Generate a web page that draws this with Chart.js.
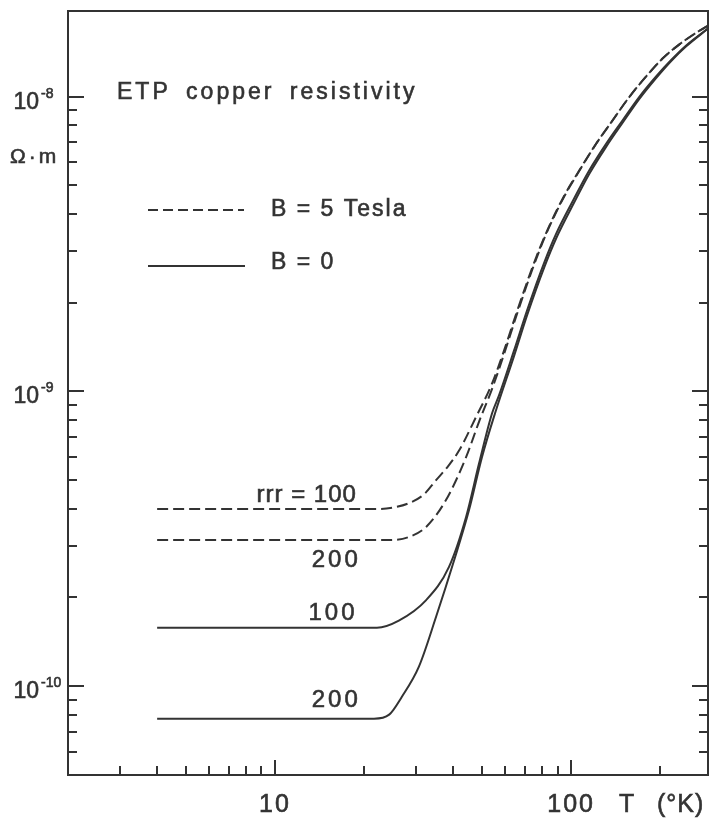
<!DOCTYPE html>
<html>
<head>
<meta charset="utf-8">
<title>ETP copper resistivity</title>
<script src="https://cdn.jsdelivr.net/npm/chart.js@4.4.1"></script>
<style>
    html, body {
        margin: 0;
        padding: 0;
        background: #fff;
    }
    #container {
        width: 711px;
        height: 818px;
    }
</style>
</head>
<body>
<div id="container">
    <canvas id="vis" width="711" height="818"></canvas>
</div>
<script>
    // resistivity in ohm-metre, temperature in kelvin
    // B = 5 Tesla, rrr = 100
    const tempB5r100 = [4, 22.4, 25.2, 28.4, 31.9, 35.0, 38.4, 41.9, 47.7, 54.1, 59.4, 65.8, 75.0, 82.4, 94.7, 106.4, 121.4, 137.6, 157.2, 179.3, 204.5, 231.6, 258.4, 290];
    const rhoB5r100 = [3.99e-10, 3.99e-10, 4.04e-10, 4.18e-10, 4.48e-10, 5.0e-10, 5.57e-10, 6.31e-10, 8.17e-10, 1.064e-9, 1.377e-9, 1.88e-9, 2.73e-9, 3.45e-9, 4.6e-9, 5.6e-9, 6.91e-9, 8.26e-9, 9.96e-9, 1.17e-8, 1.35e-8, 1.50e-8, 1.62e-8, 1.74e-8];

    // B = 5 Tesla, rrr = 200
    const tempB5r200 = [4, 24.3, 28.4, 32.4, 37.8, 44.2, 48.9, 54.1, 59.4, 65.8, 75.0, 82.4, 94.7, 106.4, 121.4, 137.6, 157.2, 179.3, 204.5, 231.6, 258.4, 290];
    const rhoB5r200 = [3.13e-10, 3.13e-10, 3.21e-10, 3.47e-10, 4.28e-10, 5.98e-10, 7.9e-10, 1.02e-9, 1.34e-9, 1.84e-9, 2.69e-9, 3.42e-9, 4.57e-9, 5.58e-9, 6.9e-9, 8.25e-9, 9.96e-9, 1.17e-8, 1.35e-8, 1.50e-8, 1.62e-8, 1.74e-8];

    // B = 0, rrr = 100
    const tempB0r100 = [4, 22.1, 26.2, 32.4, 38.7, 44.2, 48.9, 54.1, 57.1, 64.2, 71.0, 81.1, 89.0, 102.3, 115.0, 131.3, 148.7, 169.8, 193.7, 217.8, 244.8, 290];
    const rhoB0r100 = [1.58e-10, 1.58e-10, 1.67e-10, 1.96e-10, 2.54e-10, 3.75e-10, 5.7e-10, 8.43e-10, 9.69e-10, 1.377e-9, 1.88e-9, 2.73e-9, 3.42e-9, 4.5e-9, 5.6e-9, 6.91e-9, 8.26e-9, 9.96e-9, 1.17e-8, 1.33e-8, 1.49e-8, 1.70e-8];

    // B = 0, rrr = 200
    const tempB0r200 = [4, 21.6, 24.3, 26.8, 30.6, 35.0, 40.3, 45.2, 50.0, 55.3, 64.2, 71.0, 81.1, 89.0, 102.3, 115.0, 131.3, 148.7, 169.8, 193.7, 217.8, 244.8, 290];
    const rhoB0r200 = [7.76e-11, 7.76e-11, 8.01e-11, 9.2e-11, 1.163e-10, 1.72e-10, 2.68e-10, 3.95e-10, 5.98e-10, 8.4e-10, 1.32e-9, 1.81e-9, 2.63e-9, 3.3e-9, 4.36e-9, 5.45e-9, 6.75e-9, 8.1e-9, 9.8e-9, 1.155e-8, 1.32e-8, 1.48e-8, 1.70e-8];

    const xMajorTicks = [10, 100];
    const xMinorTicks = [3, 4, 5, 6, 7, 8, 9, 20, 30, 40, 50, 60, 70, 80, 90, 200];
    const xTickLabels = ['10', '100'];
    const yMajorTicks = [1e-10, 1e-9, 1e-8];
    const yMinorTicks = [6e-11, 7e-11, 8e-11, 9e-11,
        2e-10, 3e-10, 4e-10, 5e-10, 6e-10, 7e-10, 8e-10, 9e-10,
        2e-9, 3e-9, 4e-9, 5e-9, 6e-9, 7e-9, 8e-9, 9e-9];
    const yTickExponents = ['-10', '-9', '-8'];

    // curve annotations: text, T, rho
    const curveLabels = [
        ['rrr = 100', 12.8, 4.21e-10],
        ['200', 16.1, 2.54e-10],
        ['100', 15.7, 1.68e-10],
        ['200', 16.1, 8.53e-11]
    ];

    const ink = '#333333';
    const font = '"Liberation Sans", Arial, sans-serif';

    const toPoints = (xs, ys) => xs.map((x, i) => ({x, y: ys[i]}));

    // text with a thin outline so it looks as heavy as the printed original
    function text(ctx, str, x, y, size, spacing, align) {
        ctx.font = `${size}px ${font}`;
        ctx.letterSpacing = `${spacing}px`;
        ctx.textAlign = align || 'left';
        ctx.lineWidth = 0.6;
        ctx.fillText(str, x, y);
        ctx.strokeText(str, x, y);
    }

    const framePlugin = {
        id: 'frame',
        afterDraw(chart) {
            const ctx = chart.ctx;
            const a = chart.chartArea;
            const xs = chart.scales.x;
            const ys = chart.scales.y;
            ctx.save();
            ctx.strokeStyle = ink;
            ctx.fillStyle = ink;
            ctx.lineWidth = 2;
            ctx.setLineDash([]);
            ctx.strokeRect(a.left, a.top, a.right - a.left, a.bottom - a.top);

            // inward tick marks
            ctx.beginPath();
            xMajorTicks.forEach(v => {
                const p = Math.round(xs.getPixelForValue(v));
                ctx.moveTo(p, a.bottom); ctx.lineTo(p, a.bottom - 15);
            });
            xMinorTicks.forEach(v => {
                const p = Math.round(xs.getPixelForValue(v));
                ctx.moveTo(p, a.bottom); ctx.lineTo(p, a.bottom - 9);
            });
            yMajorTicks.forEach(v => {
                const p = Math.round(ys.getPixelForValue(v));
                ctx.moveTo(a.left, p); ctx.lineTo(a.left + 16, p);
                ctx.moveTo(a.right, p); ctx.lineTo(a.right - 16, p);
            });
            yMinorTicks.forEach(v => {
                const p = Math.round(ys.getPixelForValue(v));
                ctx.moveTo(a.left, p); ctx.lineTo(a.left + 9, p);
                ctx.moveTo(a.right, p); ctx.lineTo(a.right - 9, p);
            });
            ctx.stroke();

            // axis labels
            ctx.textBaseline = 'alphabetic';
            xMajorTicks.forEach((v, i) => {
                text(ctx, xTickLabels[i], xs.getPixelForValue(v), a.bottom + 37, 25, 2, 'center');
            });
            text(ctx, 'T', a.left + 551, a.bottom + 37, 25, 0, 'left');
            text(ctx, '(°K)', a.left + 589, a.bottom + 37, 25, 1, 'left');
            yMajorTicks.forEach((v, i) => {
                const p = ys.getPixelForValue(v);
                text(ctx, '10', a.left - 29, p + 12, 23, 0, 'right');
                text(ctx, yTickExponents[i], a.left - 27, p + 1, 14, 0, 'left');
            });
            text(ctx, 'Ω·m', a.left - 58, a.top + 152, 21, 3, 'left');

            // title and legend
            ctx.wordSpacing = '6px';
            text(ctx, 'ETP copper resistivity', a.left + 49, a.top + 88, 23, 3, 'left');
            ctx.wordSpacing = '0px';
            ctx.lineWidth = 2;
            ctx.beginPath();
            ctx.setLineDash([10, 5]);
            ctx.moveTo(a.left + 80, a.top + 199); ctx.lineTo(a.left + 176, a.top + 199);
            ctx.stroke();
            ctx.setLineDash([]);
            ctx.beginPath();
            ctx.moveTo(a.left + 80, a.top + 255); ctx.lineTo(a.left + 177, a.top + 255);
            ctx.stroke();
            text(ctx, 'B = 5 Tesla', a.left + 203, a.top + 205, 23, 2, 'left');
            text(ctx, 'B = 0', a.left + 203, a.top + 258, 23, 2, 'left');

            // curve labels
            curveLabels.forEach(([str, t, r], i) => {
                text(ctx, str, xs.getPixelForValue(t), ys.getPixelForValue(r), 24, i === 0 ? 1 : 3, 'center');
            });
            ctx.restore();
        }
    };

    const lineBase = {
        showLine: true,
        borderColor: ink,
        borderWidth: 2,
        pointRadius: 0,
        cubicInterpolationMode: 'monotone',
        fill: false
    };

    const config = {
        type: 'scatter',
        data: {
            datasets: [
                {...lineBase, label: 'B = 5 Tesla, rrr = 100', data: toPoints(tempB5r100, rhoB5r100), borderDash: [11, 5]},
                {...lineBase, label: 'B = 5 Tesla, rrr = 200', data: toPoints(tempB5r200, rhoB5r200), borderDash: [11, 5]},
                {...lineBase, label: 'B = 0, rrr = 100', data: toPoints(tempB0r100, rhoB0r100)},
                {...lineBase, label: 'B = 0, rrr = 200', data: toPoints(tempB0r200, rhoB0r200)}
            ]
        },
        options: {
            responsive: false,
            animation: false,
            layout: {
                padding: {left: 68, right: 3, top: 11, bottom: 43}
            },
            plugins: {
                legend: {display: false},
                tooltip: {enabled: false}
            },
            scales: {
                x: {type: 'logarithmic', min: 2, max: 290, display: false},
                y: {type: 'logarithmic', min: 5e-11, max: 1.95e-8, display: false}
            }
        },
        plugins: [framePlugin]
    };

    new Chart(document.getElementById('vis'), config);
</script>
</body>
</html>
